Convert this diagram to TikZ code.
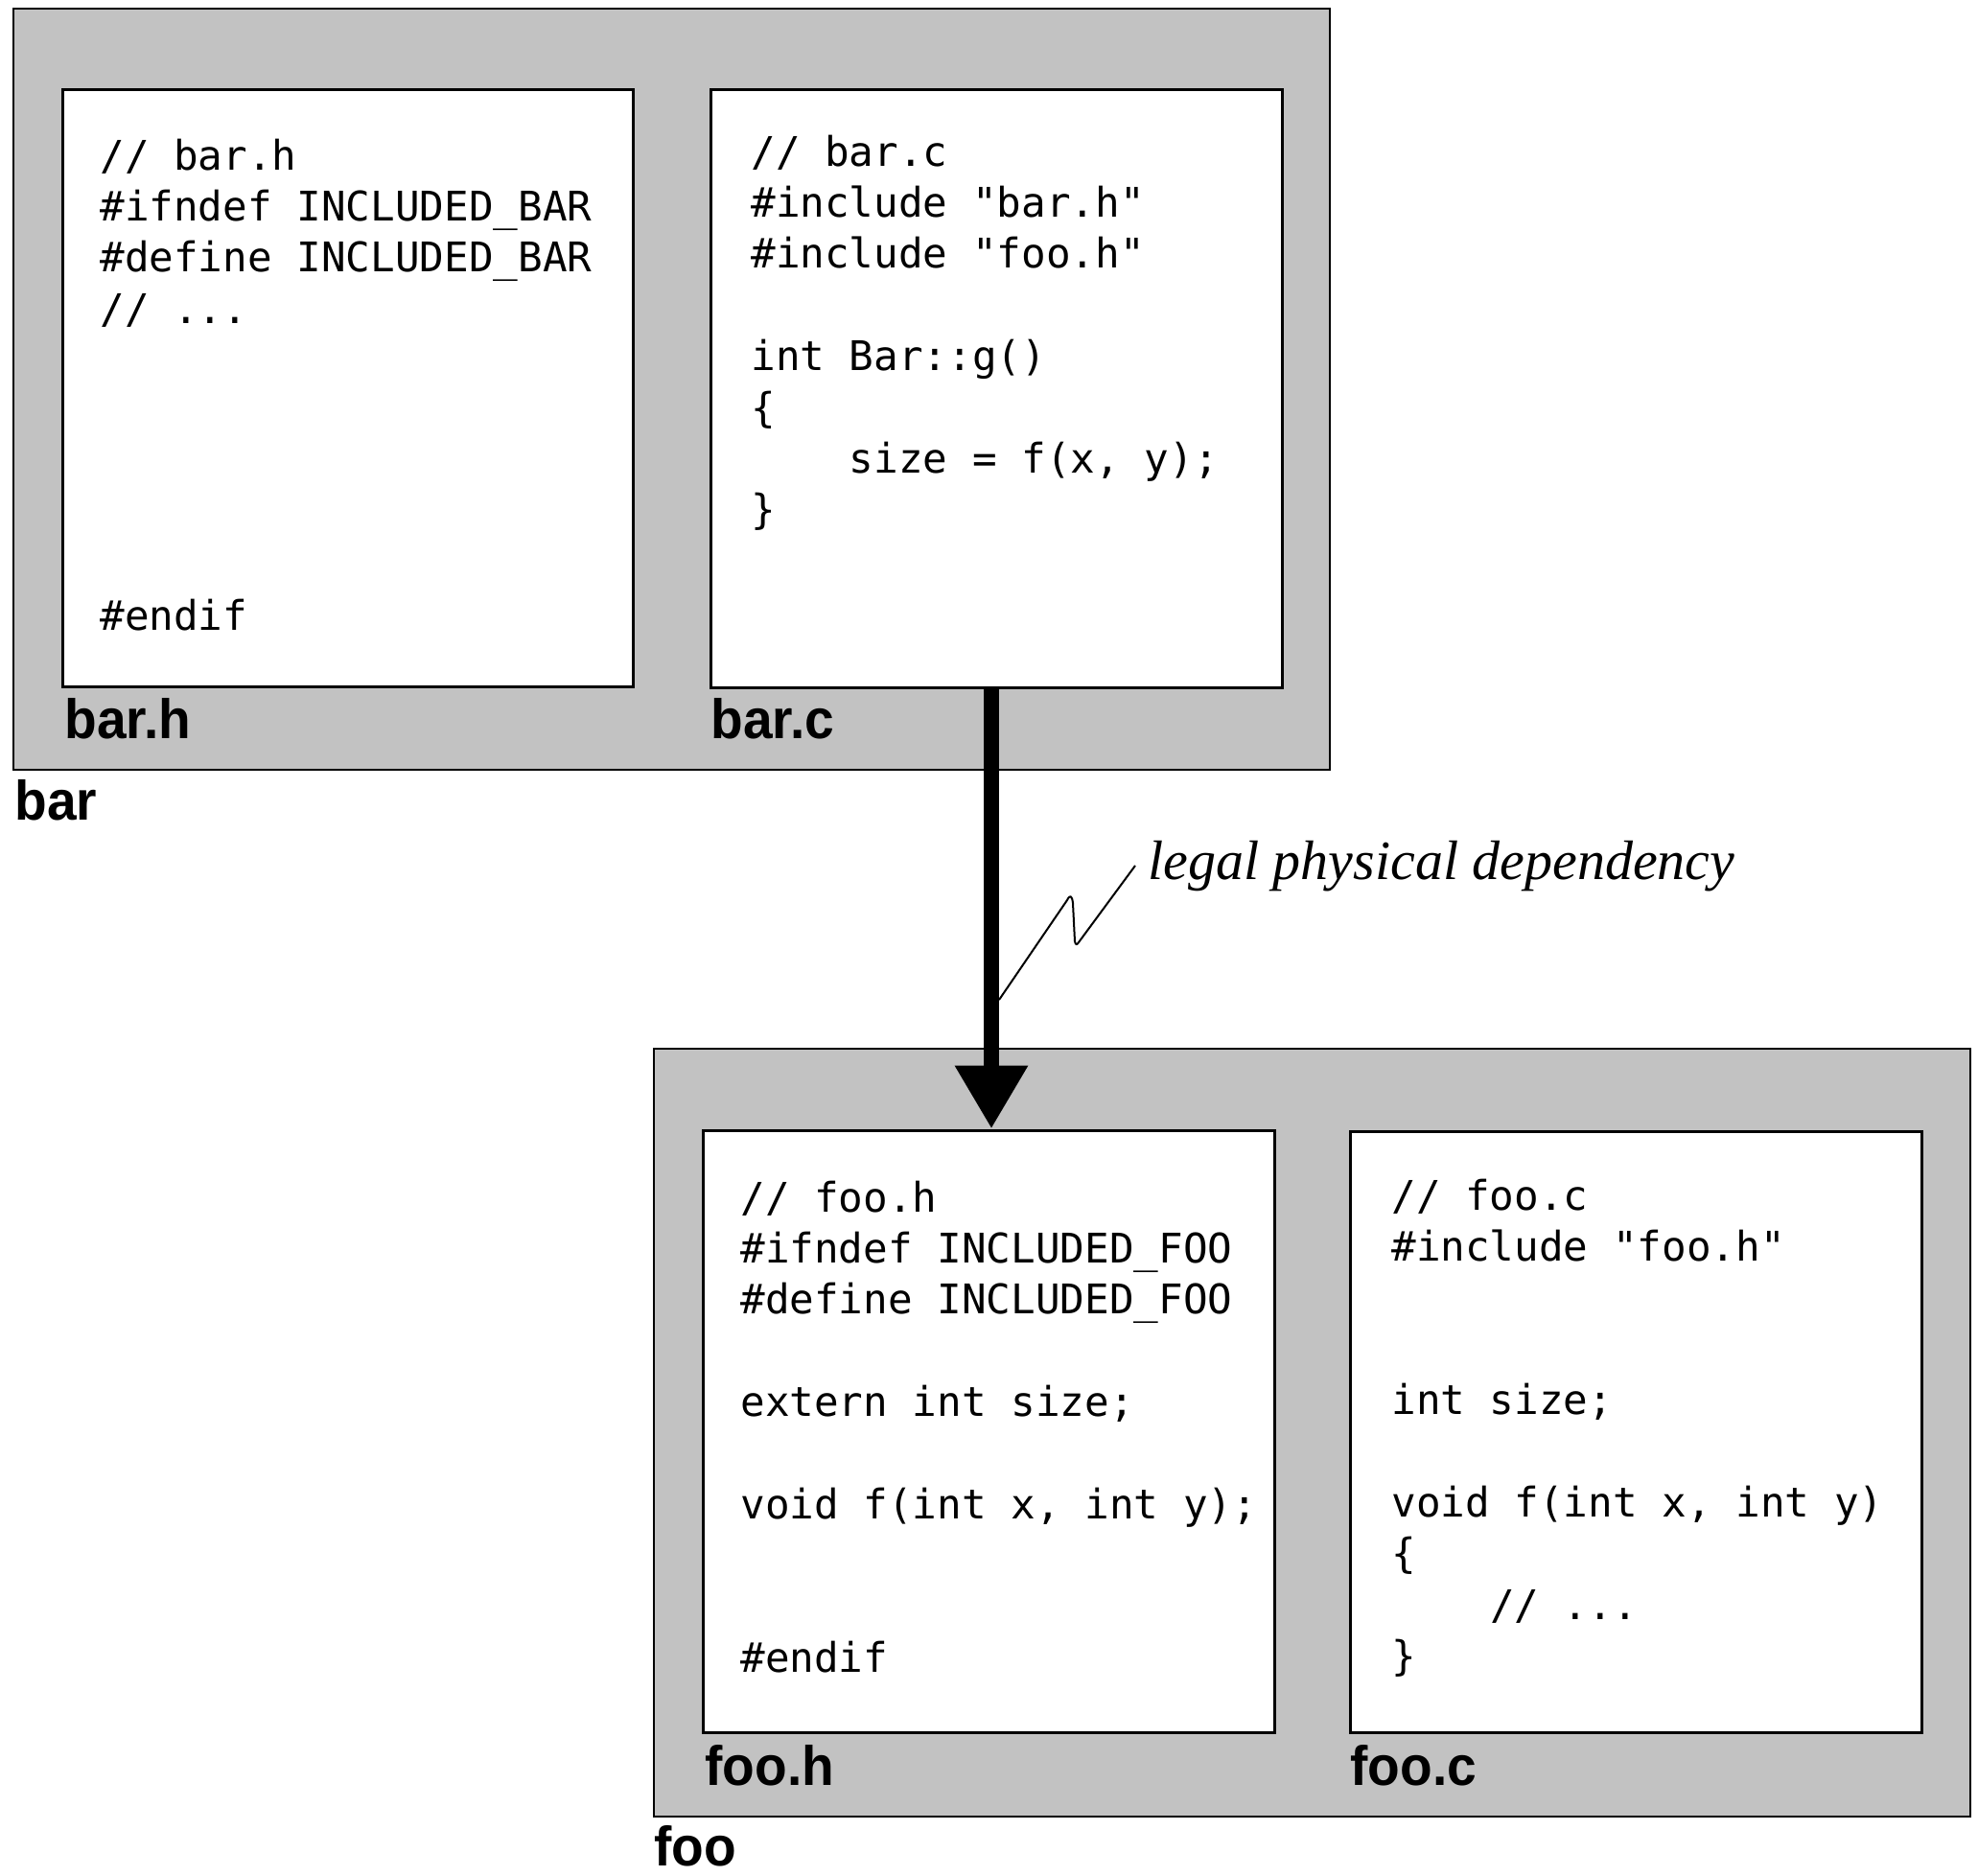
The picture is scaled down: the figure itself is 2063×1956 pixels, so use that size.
\documentclass[tikz,border=0pt]{standalone}
\usepackage{fontspec}
\usetikzlibrary{arrows.meta}
\newfontfamily\codefont{DejaVu Sans Mono}
\newfontfamily\labfont{Liberation Sans}[FakeStretch=0.95]
\newfontfamily\depfont{Liberation Serif}
\tikzset{
  pkg/.style={draw=black, line width=1pt, fill=black!24, inner sep=0pt, outer sep=0pt},
  filebox/.style={draw=black, line width=1.5pt, fill=white, inner sep=0pt},
  code/.style={anchor=base west, inner sep=0pt, align=left,
    font=\codefont\fontsize{21.3}{26.7}\selectfont},
  flabel/.style={anchor=base west, inner sep=0pt,
    font=\labfont\bfseries\fontsize{29}{30}\selectfont},
  dependency/.style={line width=8pt, -{Triangle[width=36pt,length=33pt]}},
  squiggle/.style={line width=1pt, line join=round},
}
\begin{document}
\begin{tikzpicture}[x=0.5pt,y=-0.5pt]
\useasboundingbox (0,0) rectangle (2063,1956);
% packages
\node[pkg, minimum width=686.5pt, minimum height=397pt] (barpkg) at (700.5,406) {};
\node[pkg, minimum width=686.5pt, minimum height=400.5pt] (foopkg) at (1368.5,1494.5) {};
% file boxes
\node[filebox, minimum width=297.5pt, minimum height=311.5pt] (barh) at (362.5,404.5) {};
\node[filebox, minimum width=298pt, minimum height=312pt] (barc) at (1039,405) {};
\node[filebox, minimum width=298pt, minimum height=314pt] (fooh) at (1031,1493) {};
\node[filebox, minimum width=298pt, minimum height=313.5pt] (fooc) at (1706,1493.5) {};
% code (anchor = baseline of the last line)
\node[code] (barhcode) at (104,657.6) {// bar.h\\
\#ifndef INCLUDED\_BAR\\
\#define INCLUDED\_BAR\\
// ...\\ \mbox{}\\ \mbox{}\\ \mbox{}\\ \mbox{}\\ \mbox{}\\
\#endif};
\node[code] (barccode) at (783,546.8) {// bar.c\\
\#include "bar.h"\\
\#include "foo.h"\\
\mbox{}\\
int Bar::g()\\
\{\\
\phantom{0000}size = f(x, y);\\
\}};
\node[code] (foohcode) at (772,1744.6) {// foo.h\\
\#ifndef INCLUDED\_FOO\\
\#define INCLUDED\_FOO\\
\mbox{}\\
extern int size;\\
\mbox{}\\
void f(int x, int y);\\
\mbox{}\\ \mbox{}\\
\#endif};
\node[code] (fooccode) at (1451,1742.6) {// foo.c\\
\#include "foo.h"\\
\mbox{}\\ \mbox{}\\
int size;\\
\mbox{}\\
void f(int x, int y)\\
\{\\
\phantom{0000}// ...\\
\}};
% labels
\node[flabel] (barhlab) at (67,770) {bar.h};
\node[flabel] (barclab) at (741,770) {bar.c};
\node[flabel] (barlab) at (15,855) {bar};
\node[flabel] (foohlab) at (735,1862) {foo.h};
\node[flabel] (fooclab) at (1408,1862) {foo.c};
\node[flabel] (foolab) at (682,1946) {foo};
% dependency arrow
\draw[dependency] ([xshift=-2.5pt]barc.south) -- ([xshift=-2.5pt]barc.south |- fooh.north);
% annotation
\node[anchor=base west, inner sep=0pt, font=\depfont\itshape\fontsize{29}{30}\selectfont] (dep) at (1197,917) {legal physical dependency};
\coordinate (sq0) at (1042,1043);
\coordinate (sq3) at (1184,903);
\draw[squiggle] (sq0) -- (1113,939) .. controls (1116,933) and (1118,934) .. (1119,942) -- (1121,982) .. controls (1122,986) and (1123,986) .. (1125,983) -- (sq3);
\end{tikzpicture}
\end{document}
